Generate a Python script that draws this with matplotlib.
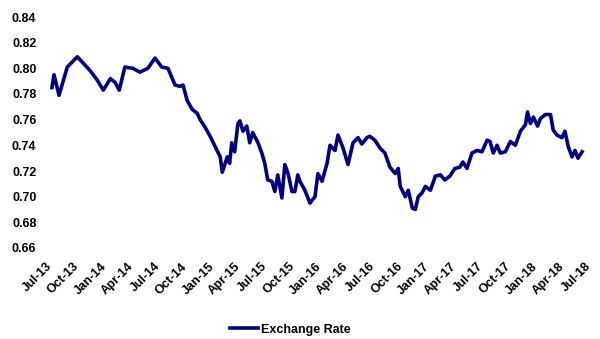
import matplotlib
matplotlib.use('Agg')
import matplotlib.pyplot as plt
import matplotlib.dates as mdates
import matplotlib.transforms as mtransforms
import pandas as pd

dates = ['2013-07-11', '2013-07-18', '2013-08-04', '2013-09-01', '2013-10-05',
         '2013-11-18', '2013-12-11', '2014-01-01', '2014-01-25', '2014-02-10',
         '2014-02-24', '2014-03-15', '2014-04-11', '2014-05-05', '2014-06-01',
         '2014-06-25', '2014-07-18', '2014-08-08', '2014-09-01', '2014-09-18',
         '2014-09-28', '2014-10-12', '2014-10-29', '2014-11-15', '2014-11-25',
         '2014-12-12', '2014-12-29', '2015-01-15', '2015-02-01', '2015-02-08',
         '2015-02-25', '2015-03-05', '2015-03-12', '2015-03-22', '2015-04-02',
         '2015-04-09', '2015-04-19', '2015-05-02', '2015-05-12', '2015-05-22',
         '2015-06-09', '2015-06-22', '2015-07-02', '2015-07-12', '2015-07-26',
         '2015-08-05', '2015-08-15', '2015-08-29', '2015-09-08', '2015-09-19',
         '2015-10-02', '2015-10-12', '2015-10-22', '2015-10-29', '2015-11-15',
         '2015-12-02', '2015-12-19', '2015-12-29', '2016-01-12', '2016-01-29',
         '2016-02-08', '2016-02-25', '2016-03-06', '2016-03-23', '2016-04-09',
         '2016-04-26', '2016-05-13', '2016-05-26', '2016-06-12', '2016-06-22',
         '2016-07-09', '2016-07-26', '2016-08-12', '2016-08-29', '2016-09-16',
         '2016-09-26', '2016-10-03', '2016-10-20', '2016-10-30', '2016-11-13',
         '2016-11-23', '2016-12-03', '2016-12-16', '2016-12-27', '2017-01-13',
         '2017-01-30', '2017-02-16', '2017-03-03', '2017-03-20', '2017-04-06',
         '2017-04-23', '2017-05-03', '2017-05-17', '2017-06-03', '2017-06-20',
         '2017-07-07', '2017-07-24', '2017-08-03', '2017-08-14', '2017-08-27',
         '2017-09-07', '2017-09-24', '2017-10-11', '2017-10-28', '2017-11-14',
         '2017-12-01', '2017-12-08', '2017-12-18', '2017-12-28', '2018-01-11',
         '2018-01-21', '2018-02-07', '2018-02-24', '2018-03-05', '2018-03-18',
         '2018-04-04', '2018-04-14', '2018-04-25', '2018-05-08', '2018-05-18',
         '2018-05-28', '2018-06-11']
rate = [0.785, 0.795, 0.779, 0.801, 0.809,
        0.798, 0.791, 0.783, 0.792, 0.789,
        0.783, 0.801, 0.800, 0.797, 0.800,
        0.808, 0.801, 0.800, 0.787, 0.786,
        0.787, 0.775, 0.768, 0.765, 0.760,
        0.754, 0.747, 0.739, 0.731, 0.719,
        0.731, 0.726, 0.742, 0.735, 0.757,
        0.759, 0.751, 0.755, 0.742, 0.750,
        0.742, 0.734, 0.726, 0.713, 0.712,
        0.704, 0.717, 0.699, 0.725, 0.718,
        0.704, 0.704, 0.717, 0.712, 0.705,
        0.695, 0.700, 0.718, 0.712, 0.726,
        0.740, 0.736, 0.748, 0.738, 0.725,
        0.742, 0.746, 0.741, 0.746, 0.747,
        0.744, 0.738, 0.734, 0.723, 0.718,
        0.722, 0.708, 0.700, 0.705, 0.691,
        0.690, 0.700, 0.703, 0.708, 0.705,
        0.716, 0.717, 0.713, 0.716, 0.722,
        0.723, 0.727, 0.722, 0.734, 0.736,
        0.735, 0.744, 0.743, 0.734, 0.740,
        0.734, 0.735, 0.743, 0.740, 0.751,
        0.756, 0.766, 0.757, 0.762, 0.755,
        0.761, 0.764, 0.764, 0.752, 0.748,
        0.746, 0.751, 0.739, 0.731, 0.736,
        0.730, 0.735]
y_ticks = [0.66, 0.68, 0.70, 0.72, 0.74, 0.76, 0.78, 0.80, 0.82, 0.84]

plt.rcParams['font.family'] = ['Liberation Sans', 'DejaVu Sans']
plt.rcParams['font.weight'] = 'bold'

fig = plt.figure(figsize=(6, 3.39), dpi=100)
ax = fig.add_axes([49 / 600, 1 - 248 / 339, 539 / 600, 231 / 339])

x = pd.to_datetime(dates)
ax.plot(x, rate, color='#000080', lw=2.6, label='Exchange Rate', solid_joinstyle='round')

ax.set_ylim(0.66, 0.84)
ax.set_yticks(y_ticks)
ax.set_yticklabels(['%.2f' % v for v in y_ticks])
ax.set_xlim(pd.Timestamp('2013-07-01'), pd.Timestamp('2018-07-01'))
ax.xaxis.set_major_locator(mdates.MonthLocator(bymonth=[1, 4, 7, 10]))
ax.xaxis.set_major_formatter(mdates.DateFormatter('%b-%y'))

for s in ax.spines.values():
    s.set_visible(False)
ax.tick_params(axis='both', length=0, labelsize=9)
ax.tick_params(axis='y', pad=9)
ax.tick_params(axis='x', pad=9)
shift = mtransforms.ScaledTranslation(-3 / 100, 0, fig.dpi_scale_trans)
for lbl in ax.get_xticklabels():
    lbl.set_rotation(45)
    lbl.set_ha('right')
    lbl.set_rotation_mode('anchor')
    lbl.set_transform(lbl.get_transform() + shift)

fig.legend(loc='center', bbox_to_anchor=(0.484, 0.027), frameon=False,
           fontsize=9, handlelength=2.25, handletextpad=0.25)

fig.savefig('out.png', dpi=100)
